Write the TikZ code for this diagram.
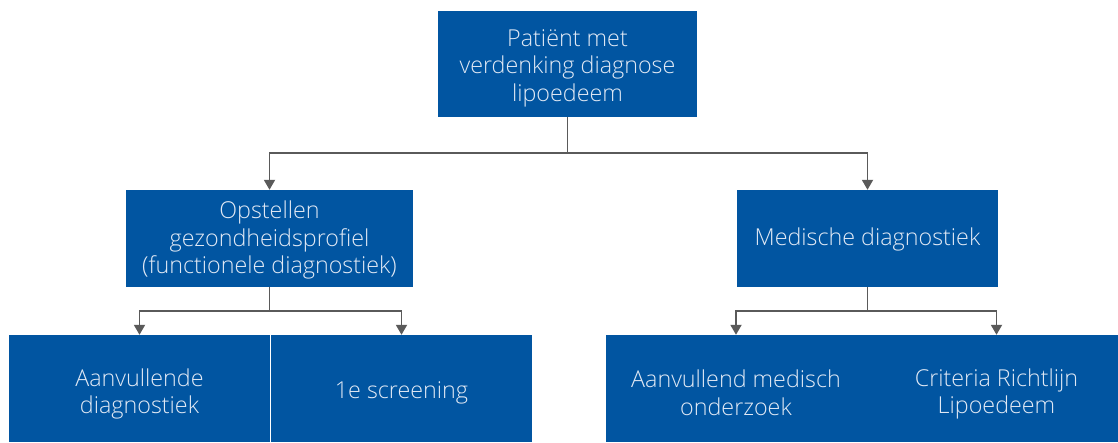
\documentclass[tikz,border=0pt]{standalone}
\usepackage{fontspec}
\setmainfont{Open Sans Light}
\usepackage{xcolor}
\usetikzlibrary{arrows.meta}
\definecolor{boxblue}{RGB}{1,85,161}
\definecolor{boxtext}{RGB}{225,233,245}
\definecolor{linegray}{RGB}{90,90,90}

\begin{document}
\begin{tikzpicture}[x=1pt,y=-1pt,
    blok/.style={fill=boxblue, inner sep=0pt},
    tekst/.style={inner sep=0pt, text=boxtext, align=center,
      font=\fontsize{23.3}{27.5}\selectfont},
    pijl/.style={draw=linegray, line width=1.8pt, -{Triangle[length=10pt,width=11pt]}},
    lijn/.style={draw=linegray, line width=1.8pt}]
    \useasboundingbox (0,0) rectangle (1118,442);
    % Top box
    \node[blok, minimum width=259pt, minimum height=106pt] (patient) at (567.5,64) {};
    \node[tekst] (patient-t) at (567.5,68) {Patiënt met\\verdenking diagnose\\lipoedeem};
    % Second row
    \node[blok, minimum width=287pt, minimum height=97pt] (profiel) at (269.5,238.5) {};
    \node[tekst] (profiel-t) at (269.5,240)
      {Opstellen\\gezondheidsprofiel\\(functionele diagnostiek)};
    \node[blok, minimum width=261pt, minimum height=97pt] (medisch) at (867.5,238.5) {};
    \node[tekst] (medisch-t) at (867.5,239.5) {Medische diagnostiek};
    % Bottom row, left
    \node[blok, minimum width=261pt, minimum height=107pt] (aanvdiag) at (139.5,388.5) {};
    \node[tekst] (aanvdiag-t) at (139.5,394) {Aanvullende\\diagnostiek};
    \node[blok, minimum width=261pt, minimum height=107pt] (screening) at (401.5,388.5) {};
    \node[tekst] (screening-t) at (401.5,392.5) {1e screening};
    % Bottom row, right: one box with two texts
    \node[blok, minimum width=512pt, minimum height=107pt] (medbox) at (862,388.5) {};
    \node[tekst] (aanvmed) at (736,393) {Aanvullend medisch\\onderzoek};
    \node[tekst] (criteria) at (996.5,394) {Criteria Richtlijn\\Lipoedeem};
    % Connectors
    \coordinate (split1) at (567.5,153);
    \coordinate (split2) at (269.5,311);
    \coordinate (split3) at (867.5,311);
    \draw[lijn] (patient.south) -- (split1);
    \draw[pijl] (split1) -| (profiel.north);
    \draw[pijl] (split1) -| (medisch.north);
    \draw[lijn] (profiel.south) -- (split2);
    \draw[pijl] (split2) -| (aanvdiag.north);
    \draw[pijl] (split2) -| (screening.north);
    \draw[lijn] (medisch.south) -- (split3);
    \draw[pijl] (split3) -| (aanvmed |- medbox.north);
    \draw[pijl] (split3) -| (criteria |- medbox.north);
  \end{tikzpicture}
\end{document}
